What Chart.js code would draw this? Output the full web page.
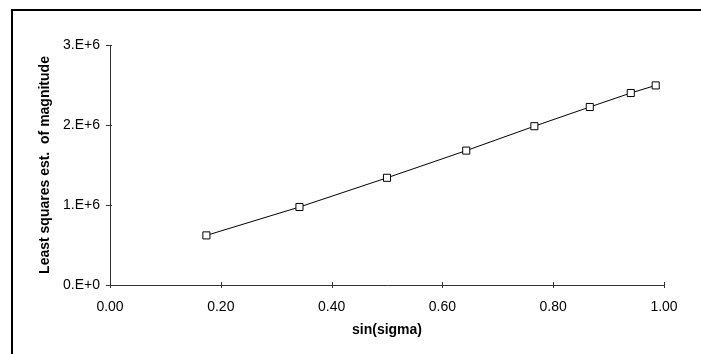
<!DOCTYPE html>
<html>
<head>
<meta charset="utf-8">
<script src="https://cdn.jsdelivr.net/npm/chart.js@4.4.1/dist/chart.umd.min.js"></script>
<style>
  html, body { margin: 0; padding: 0; background: #fff; }
  #wrap { width: 701px; height: 354px; position: relative; }
</style>
</head>
<body>
<div id="wrap"><canvas id="chart"></canvas></div>
<script>
// sin(sigma) values and the estimated magnitudes
const sinSigma = [0.174, 0.342, 0.500, 0.643, 0.766, 0.866, 0.940, 0.985];
const magnitude = [620000, 975000, 1340000, 1680000, 1985000, 2225000, 2400000, 2495000];

const xTicks = [0, 0.2, 0.4, 0.6, 0.8, 1.0];
const yTicks = [0, 1000000, 2000000, 3000000];
const yTickLabels = ['0.E+0', '1.E+6', '2.E+6', '3.E+6'];

const points = sinSigma.map((x, i) => ({ x: x, y: magnitude[i] }));

const font = 'Liberation Sans, Arial, sans-serif';

// frame lines (top + left) and ticks that cross the axes
const framePlugin = {
    id: 'frame',
    afterDraw(chart) {
        const ctx = chart.ctx;
        const area = chart.chartArea;
        ctx.save();
        ctx.strokeStyle = '#000';
        ctx.lineWidth = 2;
        ctx.beginPath();
        ctx.moveTo(12, 354);
        ctx.lineTo(12, 10);
        ctx.lineTo(701, 10);
        ctx.stroke();

        ctx.strokeStyle = '#333';
        ctx.lineWidth = 1;
        const xs = chart.scales.x;
        const ys = chart.scales.y;
        ctx.beginPath();
        xTicks.forEach(v => {
            const px = Math.round(xs.getPixelForValue(v)) + 0.5;
            ctx.moveTo(px, area.bottom - 3);
            ctx.lineTo(px, area.bottom + 3);
        });
        yTicks.forEach(v => {
            const py = Math.round(ys.getPixelForValue(v)) + 0.5;
            ctx.moveTo(area.left - 4, py);
            ctx.lineTo(area.left + 2, py);
        });
        ctx.stroke();
        ctx.restore();
    }
};

const ctx = document.getElementById('chart').getContext('2d');
new Chart(ctx, {
    type: 'scatter',
    data: {
        datasets: [{
            data: points,
            showLine: true,
            borderColor: '#000',
            borderWidth: 1,
            pointStyle: 'rect',
            pointRadius: 5,
            pointBorderWidth: 1,
            pointBackgroundColor: '#fff',
            pointBorderColor: '#000',
            pointHoverRadius: 5
        }]
    },
    options: {
        responsive: true,
        maintainAspectRatio: false,
        animation: false,
        layout: {
            padding: { left: 33, top: 45, right: 37, bottom: 0 }
        },
        plugins: {
            legend: { display: false },
            tooltip: { enabled: false }
        },
        scales: {
            x: {
                type: 'linear',
                min: 0,
                max: 1,
                afterBuildTicks: function(scale) {
                    scale.ticks = xTicks.map(v => ({ value: v }));
                },
                afterFit: function(scale) { scale.height = 69; },
                grid: { display: false, drawTicks: false },
                border: { display: true, color: '#333', width: 1 },
                ticks: {
                    padding: 14,
                    color: '#000',
                    font: { family: font, size: 14 },
                    maxRotation: 0,
                    callback: v => v.toFixed(2)
                },
                title: {
                    display: true,
                    text: 'sin(sigma)',
                    color: '#000',
                    padding: { top: 6, bottom: 15 },
                    font: { family: font, size: 14, weight: 'bold' }
                }
            },
            y: {
                type: 'linear',
                min: 0,
                max: 3000000,
                afterBuildTicks: function(scale) {
                    scale.ticks = yTicks.map(v => ({ value: v }));
                },
                afterFit: function(scale) { scale.width = 77; },
                grid: { display: false, drawTicks: false },
                border: { display: true, color: '#333', width: 1 },
                ticks: {
                    padding: 10,
                    color: '#000',
                    font: { family: font, size: 14 },
                    callback: v => yTickLabels[yTicks.indexOf(v)]
                },
                title: {
                    display: true,
                    text: 'Least squares est.  of magnitude',
                    color: '#000',
                    padding: { top: 4, bottom: 4 },
                    font: { family: font, size: 14, weight: 'bold' }
                }
            }
        }
    },
    plugins: [framePlugin]
});
</script>
</body>
</html>
